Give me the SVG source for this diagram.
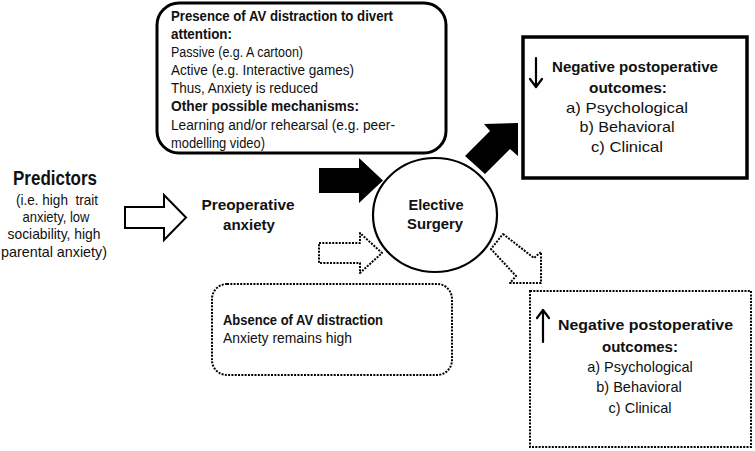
<svg xmlns="http://www.w3.org/2000/svg" width="755" height="451" viewBox="0 0 755 451">
<style>
text{font-family:"Liberation Sans",Arial,sans-serif;fill:#111;}
.b{font-weight:bold;}
.t{font-size:14px;}
.h{font-size:14.5px;}
.c{text-anchor:middle;}
.solid{fill:#fff;stroke:#000;stroke-width:3;}
.dot{fill:#fff;stroke:#000;stroke-width:2;stroke-dasharray:2 1.3;}
.dotarrow{fill:#fff;stroke:#000;stroke-width:2;stroke-dasharray:2 1.3;stroke-linejoin:round;}
.blk{fill:#000;stroke:none;}
.wht{fill:#fff;stroke:#000;stroke-width:2;stroke-linejoin:miter;}
.thin{fill:none;stroke:#000;stroke-width:2.2;stroke-linecap:round;stroke-linejoin:round;}
</style>
<rect width="755" height="451" fill="#fff"/>

<g id="connectors">
  <polygon class="wht" points="125,207 164,207 164,195 186,217.5 164,240 164,228 125,228"/>
  <polygon class="blk" points="319,168 359,168 359,158 383,180.5 359,203 359,193 319,193"/>
  <polygon class="dotarrow" points="319,243 360,243 360,233 382,253 360,273 360,263 319,263"/>
  <polygon class="blk" points="465,156 490,131 484,124 518,123 518,156 510,149 485,174"/>
  <polygon class="dotarrow" points="503,234 534,258 541,252 541,283 510,283 516,276 491,249"/>
</g>

<g id="presence">
  <rect class="solid" x="157" y="3" width="289" height="150" rx="22" ry="22"/>
  <text class="t b" x="171" y="20.5" textLength="222" lengthAdjust="spacingAndGlyphs">Presence of AV distraction to divert</text>
  <text class="t b" x="171" y="38.5" textLength="61" lengthAdjust="spacingAndGlyphs">attention:</text>
  <text class="t" x="171" y="56.5" textLength="132" lengthAdjust="spacingAndGlyphs">Passive (e.g. A cartoon)</text>
  <text class="t" x="171" y="74.5" textLength="183" lengthAdjust="spacingAndGlyphs">Active (e.g. Interactive games)</text>
  <text class="t" x="171" y="93" textLength="147" lengthAdjust="spacingAndGlyphs">Thus, Anxiety is reduced</text>
  <text class="t b" x="171" y="111" textLength="188" lengthAdjust="spacingAndGlyphs">Other possible mechanisms:</text>
  <text class="t" x="171" y="129.5" textLength="224" lengthAdjust="spacingAndGlyphs">Learning and/or rehearsal (e.g. peer-</text>
  <text class="t" x="171" y="148" textLength="94" lengthAdjust="spacingAndGlyphs">modelling video)</text>
</g>

<g id="outcome-low">
  <rect x="523" y="37" width="224" height="141" fill="#fff" stroke="#000" stroke-width="3.5"/>
  <path class="thin" d="M536,58 V86 M530,79 L536,87 L542,79"/>
  <text class="h b" x="552" y="72" font-size="15" textLength="166" lengthAdjust="spacingAndGlyphs">Negative postoperative</text>
  <text class="h b c" x="628" y="93" font-size="15" textLength="78" lengthAdjust="spacingAndGlyphs">outcomes:</text>
  <text class="h c" x="627" y="113" font-size="15.5" textLength="122" lengthAdjust="spacingAndGlyphs">a) Psychological</text>
  <text class="h c" x="627" y="132" font-size="15.5" textLength="95" lengthAdjust="spacingAndGlyphs">b) Behavioral</text>
  <text class="h c" x="627" y="152" font-size="15.5" textLength="72" lengthAdjust="spacingAndGlyphs">c) Clinical</text>
</g>

<g id="predictors">
  <text class="b c" x="55" y="185" font-size="20" textLength="84" lengthAdjust="spacingAndGlyphs">Predictors</text>
  <text class="h c" x="57" y="205" style="white-space:pre" textLength="82" lengthAdjust="spacingAndGlyphs">(i.e. high  trait</text>
  <text class="h c" x="56" y="222" textLength="67" lengthAdjust="spacingAndGlyphs">anxiety, low</text>
  <text class="h c" x="54" y="239" textLength="93" lengthAdjust="spacingAndGlyphs">sociability, high</text>
  <text class="h c" x="54" y="257" textLength="106" lengthAdjust="spacingAndGlyphs">parental anxiety)</text>
</g>

<g id="preoperative">
  <text class="b c" x="248" y="210" font-size="15.5" textLength="93" lengthAdjust="spacingAndGlyphs">Preoperative</text>
  <text class="b c" x="249" y="230" font-size="15.5" textLength="52" lengthAdjust="spacingAndGlyphs">anxiety</text>
</g>

<g id="surgery">
  <ellipse cx="435" cy="215" rx="62" ry="57" fill="#fff" stroke="#000" stroke-width="2.2"/>
  <text class="b c" x="436" y="210" font-size="15.5" textLength="55" lengthAdjust="spacingAndGlyphs">Elective</text>
  <text class="b c" x="435" y="229" font-size="15.5" textLength="56" lengthAdjust="spacingAndGlyphs">Surgery</text>
</g>

<g id="absence">
  <rect class="dot" x="212" y="284" width="240" height="91" rx="15" ry="15"/>
  <text class="t b" x="223" y="325" textLength="160" lengthAdjust="spacingAndGlyphs">Absence of AV distraction</text>
  <text class="t" x="223" y="343" textLength="129" lengthAdjust="spacingAndGlyphs">Anxiety remains high</text>
</g>

<g id="outcome-high">
  <rect class="dot" x="530" y="291" width="221" height="156"/>
  <path class="thin" d="M543,342 V311 M537,318 L543,310 L549,318"/>
  <text class="h b" x="558" y="330" textLength="175" lengthAdjust="spacingAndGlyphs">Negative postoperative</text>
  <text class="h b c" x="640" y="352" textLength="76" lengthAdjust="spacingAndGlyphs">outcomes:</text>
  <text class="h c" x="640" y="372">a) Psychological</text>
  <text class="h c" x="639" y="392">b) Behavioral</text>
  <text class="h c" x="640" y="413">c) Clinical</text>
</g>
</svg>
